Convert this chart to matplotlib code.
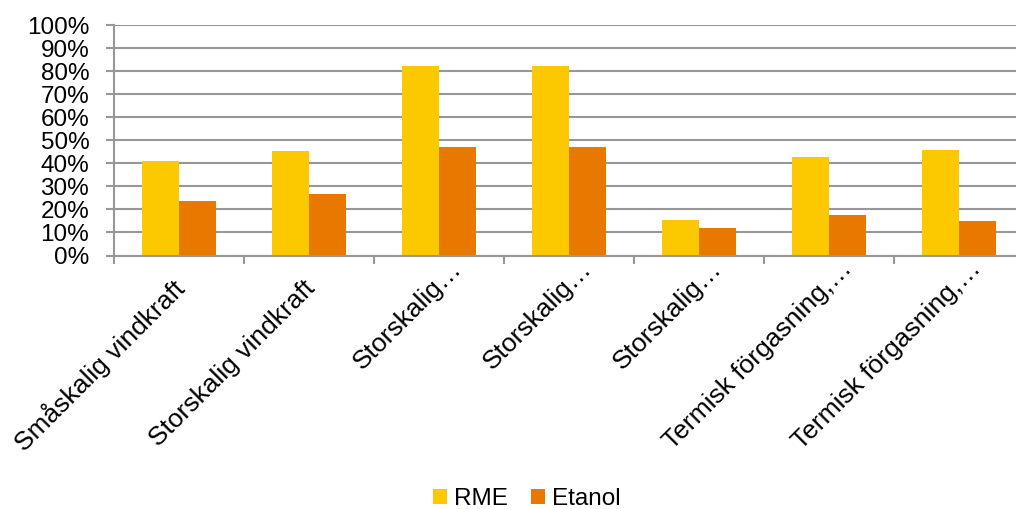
import matplotlib
matplotlib.use("Agg")
import matplotlib.pyplot as plt
import numpy as np
from matplotlib.ticker import FixedLocator, PercentFormatter
from matplotlib.transforms import ScaledTranslation

categories = ["Småskalig vindkraft", "Storskalig vindkraft", "Storskalig…", "Storskalig…",
              "Storskalig…", "Termisk förgasning,…", "Termisk förgasning,…"]
rme = [41, 45.5, 82, 82, 15.2, 42.6, 45.7]
etanol = [23.6, 26.6, 47.1, 47.1, 11.8, 17.6, 14.9]
yticks = list(range(0, 101, 10))

plt.rcParams['font.family'] = ['Liberation Sans', 'DejaVu Sans']

fig = plt.figure(figsize=(10.16, 5.09), dpi=100)
ax = fig.add_axes([114/1016, (509-255.5)/509, (1023.6-114)/1016, (255.5-25)/509])

x = np.arange(len(categories))
w = 0.285
ax.bar(x - w/2, rme, width=w, color='#FCC800', label='RME', zorder=3)
ax.bar(x + w/2, etanol, width=w, color='#E97800', label='Etanol', zorder=3)

grey = '#979797'
ax.set_ylim(0, 100)
ax.set_xlim(-0.5, len(categories) - 0.5)
ax.set_yticks(yticks)
ax.yaxis.set_major_formatter(PercentFormatter(decimals=0))
ax.grid(axis='y', color=grey, linewidth=1.5, zorder=0)
for s in ['top', 'right']:
    ax.spines[s].set_visible(False)
for s in ['left', 'bottom']:
    ax.spines[s].set_color(grey)
    ax.spines[s].set_linewidth(1.5)
    ax.spines[s].set_zorder(4)

ax.tick_params(axis='y', length=5.8, width=1.5, color=grey, labelsize=17.5, pad=12)
ax.set_xticks(x)
ax.set_xticklabels(categories, rotation=45, ha='right', va='center',
                   rotation_mode='anchor', fontsize=19)
ax.tick_params(axis='x', which='major', length=0, pad=0)
ax.xaxis.set_minor_locator(FixedLocator(np.arange(-0.5, len(categories), 1.0)))
ax.tick_params(axis='x', which='minor', length=5.6, width=1.5, color=grey)

for lab, txt in zip(ax.get_xticklabels(), categories):
    if txt.endswith('…'):
        dx, dy = 19, 9
    else:
        dx, dy = 2, 29
    lab.set_transform(lab.get_transform() + ScaledTranslation(dx/100, -dy/100, fig.dpi_scale_trans))

fig.legend(loc='center', bbox_to_anchor=(527/1016, 1 - 499/509), ncol=2, frameon=False,
           fontsize=17.5, handlelength=0.58, handleheight=0.58, handletextpad=0.29,
           columnspacing=0.95)

fig.savefig('out.png', dpi=100)
